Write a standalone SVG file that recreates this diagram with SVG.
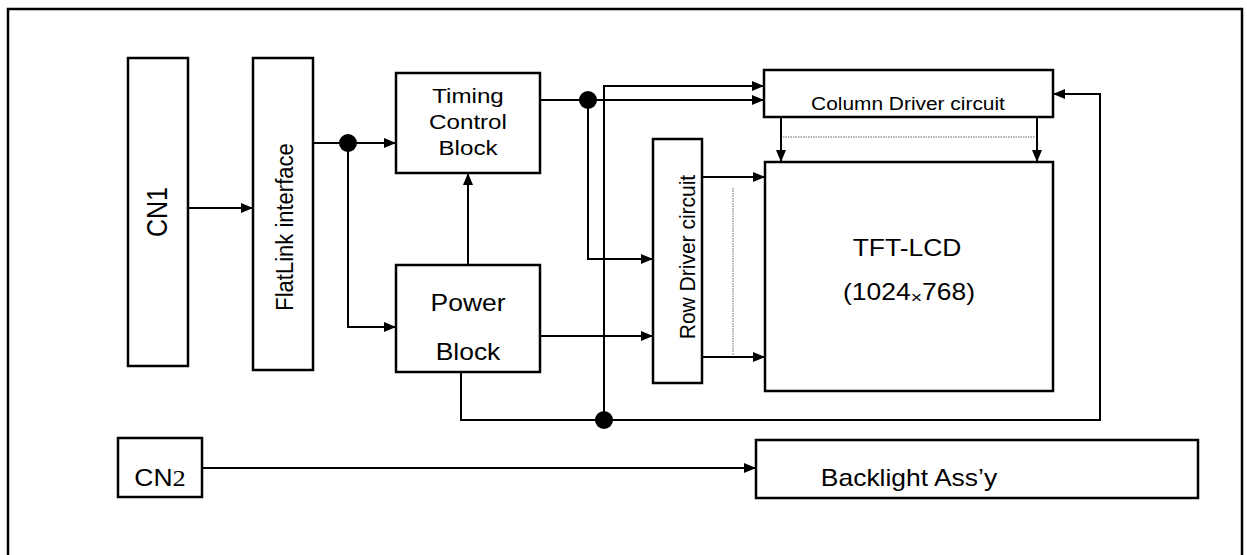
<svg xmlns="http://www.w3.org/2000/svg" width="1247" height="555" viewBox="0 0 1247 555">
<style>
.box{fill:#fff;stroke:#000;stroke-width:2.5}
.ln{fill:none;stroke:#000;stroke-width:2}
.dot{fill:#000}
.dash{fill:none;stroke:#666;stroke-width:1;stroke-dasharray:1.5 1}
text{font-family:"Liberation Sans",Arial,sans-serif;fill:#000;text-anchor:middle}
</style>
<defs>
<marker id="ah" viewBox="0 0 12 10" refX="12" refY="5" markerWidth="12" markerHeight="10" markerUnits="userSpaceOnUse" orient="auto">
<path d="M0,0 L12,5 L0,10 Z" fill="#000"/>
</marker>
</defs>
<rect x="0" y="0" width="1247" height="555" fill="#fff"/>
<rect x="8" y="9" width="1234" height="560" fill="none" stroke="#000" stroke-width="2.5"/>

<g id="cn1"><rect class="box" x="128" y="58" width="60" height="308"/><text transform="translate(167,212) scale(1.2,1) rotate(-90)" font-size="25">CN1</text></g>
<g id="flatlink"><rect class="box" x="253" y="58" width="60" height="312"/><text transform="translate(293,227) scale(1.1,1) rotate(-90)" font-size="22">FlatLink interface</text></g>
<g id="timing"><rect class="box" x="396" y="73" width="144" height="100"/><text transform="translate(468,103) scale(1.15,1)" font-size="21">Timing</text><text transform="translate(468,129) scale(1.15,1)" font-size="21">Control</text><text transform="translate(468,155) scale(1.15,1)" font-size="21">Block</text></g>
<g id="power"><rect class="box" x="396" y="265" width="144" height="107"/><text transform="translate(468,311) scale(1.15,1)" font-size="23">Power</text><text transform="translate(468,360) scale(1.15,1)" font-size="23">Block</text></g>
<g id="rowdriver"><rect class="box" x="653" y="139" width="49" height="244"/><text transform="translate(695,257) scale(1.05,1) rotate(-90)" font-size="21">Row Driver circuit</text></g>
<g id="coldriver"><rect class="box" x="764" y="70" width="289" height="47"/><text transform="translate(908,110) scale(1.13,1)" font-size="18.5">Column Driver circuit</text></g>
<g id="tft"><rect class="box" x="765" y="162" width="288" height="229"/><text transform="translate(907,256) scale(1.15,1)" font-size="23">TFT-LCD</text><text transform="translate(909,300) scale(1.15,1)" font-size="23">(1024<tspan font-size="17" dy="3">×</tspan><tspan dy="-3">768)</tspan></text></g>
<g id="cn2"><rect class="box" x="118" y="438" width="84" height="59"/><text transform="translate(160,486) scale(1.15,1)" font-size="23">CN<tspan font-family="'Liberation Serif',serif">2</tspan></text></g>
<g id="backlight"><rect class="box" x="756" y="440" width="442" height="58"/><text transform="translate(909,486) scale(1.15,1)" font-size="23">Backlight Ass’y</text></g>

<g id="connectors">
<path class="ln" d="M188,208 H253" marker-end="url(#ah)"/>
<path class="ln" d="M313,143 H396" marker-end="url(#ah)"/>
<path class="ln" d="M348,143 V327 H396" marker-end="url(#ah)"/>
<path class="ln" d="M468,265 V173" marker-end="url(#ah)"/>
<path class="ln" d="M540,100 H764" marker-end="url(#ah)"/>
<path class="ln" d="M604,420 V86 H764" marker-end="url(#ah)"/>
<path class="ln" d="M588,100 V259 H653" marker-end="url(#ah)"/>
<path class="ln" d="M540,336 H653" marker-end="url(#ah)"/>
<path class="ln" d="M702,177 H765" marker-end="url(#ah)"/>
<path class="ln" d="M702,357 H765" marker-end="url(#ah)"/>
<path class="dash" d="M733,188 V355"/>
<path class="ln" d="M781,117 V162" marker-end="url(#ah)"/>
<path class="ln" d="M1037,117 V162" marker-end="url(#ah)"/>
<path class="dash" d="M783,137 H1035"/>
<path class="ln" d="M461,372 V420 H1100 V94 H1053" marker-end="url(#ah)"/>
<path class="ln" d="M202,468 H756" marker-end="url(#ah)"/>
<circle class="dot" cx="348" cy="143" r="9"/>
<circle class="dot" cx="588" cy="100" r="9"/>
<circle class="dot" cx="604" cy="420" r="9"/>
</g>
</svg>
